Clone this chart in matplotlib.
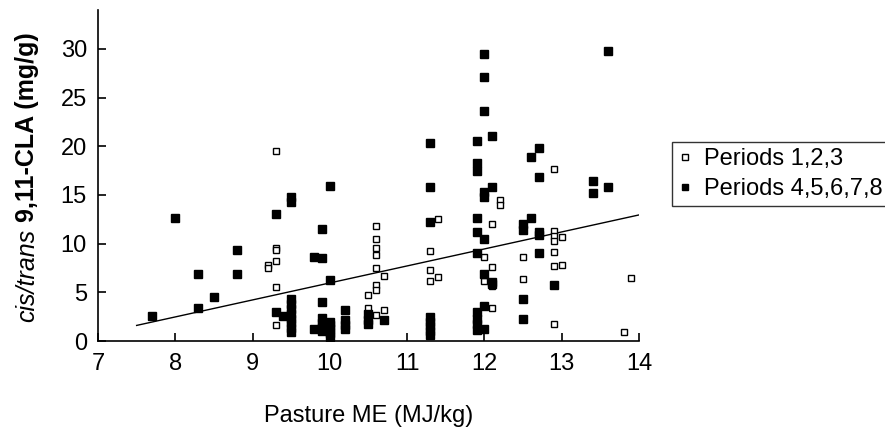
import matplotlib
matplotlib.use("Agg")
import matplotlib.pyplot as plt

# Periods 1,2,3 (open squares)
open_x = [9.3, 9.3, 9.3, 9.3, 9.2, 9.2, 9.3, 9.3,
          10.6, 10.6, 10.6, 10.6, 10.6, 10.7, 10.6, 10.6, 10.5, 10.5, 10.6, 10.7,
          11.4, 11.3, 11.3, 11.3, 11.4,
          12.2, 12.2, 12.1, 12.0, 12.1, 12.0, 12.1, 12.1,
          12.9, 12.5, 12.5, 12.9, 12.9, 12.9, 13.0, 12.9, 12.9, 13.0, 12.9,
          13.9, 13.8]
open_y = [19.5, 9.6, 9.3, 8.2, 7.8, 7.5, 5.5, 1.6,
          11.8, 10.5, 9.6, 8.8, 7.5, 6.7, 5.75, 5.2, 4.7, 3.4, 2.7, 3.2,
          12.5, 9.2, 7.3, 6.2, 6.6,
          14.5, 14.0, 12.0, 8.6, 7.6, 6.2, 5.6, 3.4,
          17.7, 8.6, 6.4, 11.3, 10.8, 10.3, 10.65, 9.1, 7.7, 7.8, 1.75,
          6.5, 0.95]

# Periods 4,5,6,7,8 (filled squares)
filled_x = [7.7, 8.0, 8.3, 8.3, 8.5, 8.8, 8.8, 9.3, 9.3, 9.4,
            9.5, 9.5, 9.5, 9.5, 9.5, 9.5, 9.5, 9.5, 9.5, 9.5,
            10.0, 9.9, 9.8, 9.9, 10.0, 9.9, 9.8, 9.9, 9.9, 9.9, 9.9,
            10.0, 10.0, 10.0, 10.0, 10.0,
            10.2, 10.2, 10.2, 10.2,
            10.5, 10.5, 10.5, 10.7,
            11.3, 11.3, 11.3, 11.3, 11.3, 11.3, 11.3, 11.3,
            11.9, 11.9, 11.9, 11.9, 11.9, 11.9, 11.9, 11.9, 11.9, 11.9,
            12.0, 12.0, 12.0, 12.1, 12.0, 12.0, 12.1, 12.0, 12.0, 12.1, 12.1, 12.0, 12.0,
            13.6, 12.7, 12.6, 12.7, 13.4, 13.4, 13.6, 12.6, 12.5, 12.5, 12.7, 12.7,
            12.7, 12.9, 12.5, 12.5]
filled_y = [2.6, 12.6, 3.4, 6.9, 4.5, 9.3, 6.9, 13.0, 3.0, 2.6,
            14.8, 14.3, 4.3, 3.8, 3.3, 2.8, 2.3, 1.8, 1.3, 0.9,
            15.9, 11.5, 8.6, 8.5, 6.3, 4.0, 1.2, 2.4, 1.9, 1.4, 1.0,
            2.0, 1.6, 1.2, 0.8, 0.4,
            3.2, 2.2, 1.6, 1.2,
            2.8, 2.2, 1.7, 2.2,
            20.3, 15.85, 12.25, 2.5, 2.0, 1.5, 1.0, 0.6,
            20.5, 18.3, 17.5, 12.6, 11.2, 9.0, 3.0, 2.3, 1.7, 1.1,
            29.5, 27.1, 23.6, 21.1, 15.3, 14.8, 15.8, 10.5, 6.9, 6.1, 5.85, 3.6, 1.2,
            29.8, 19.8, 18.9, 16.8, 16.4, 15.2, 15.85, 12.6, 12.0, 11.4, 11.2, 10.9,
            9.0, 5.75, 4.3, 2.3]

# regression line end points
fit_x = [7.5, 14.0]
fit_y = [1.6, 12.95]

x_ticks = [7, 8, 9, 10, 11, 12, 13, 14]
y_ticks = [0, 5, 10, 15, 20, 25, 30]

plt.rcParams['font.family'] = ['Liberation Sans', 'DejaVu Sans']

fig = plt.figure(figsize=(8.85, 4.34), dpi=100)
ax = fig.add_axes([98 / 885, 1 - 341 / 434, (639 - 98) / 885, (341 - 10) / 434])

ax.plot(open_x, open_y, 's', markersize=5, markerfacecolor='white',
        markeredgecolor='black', markeredgewidth=1.0, linestyle='none',
        label='Periods 1,2,3', zorder=3)
ax.plot(filled_x, filled_y, 's', markersize=5.5, color='black',
        linestyle='none', label='Periods 4,5,6,7,8', zorder=3)
ax.plot(fit_x, fit_y, color='black', linewidth=1.0, zorder=2)

ax.set_xlim(7, 14)
ax.set_ylim(0, 34)
ax.set_xticks(x_ticks)
ax.set_yticks(y_ticks)
for side in ['top', 'right']:
    ax.spines[side].set_visible(False)
for side in ['left', 'bottom']:
    ax.spines[side].set_linewidth(1.2)
ax.tick_params(axis='both', direction='in', length=6, width=1.2, labelsize=17)
ax.tick_params(axis='y', pad=8)
ax.tick_params(axis='x', pad=9)

ax.set_xlabel('Pasture ME (MJ/kg)', fontsize=17, va='center')
ax.xaxis.set_label_coords(0.5, -(416 - 341) / 331)

# y label: italic part then bold part, stacked along the rotated axis
fig.canvas.draw()
renderer = fig.canvas.get_renderer()
t1 = fig.text(27 / 885, 1 - 322 / 434, 'cis/trans', rotation=90, fontsize=18,
              style='italic', ha='center', va='bottom')
bb = t1.get_window_extent(renderer)
t2 = fig.text(27 / 885, (bb.y1 + 7) / 434, '9,11-CLA (mg/g)', rotation=90,
              fontsize=18, fontweight='bold', ha='center', va='bottom')

leg = fig.legend(loc='upper left', bbox_to_anchor=(672 / 885, 1 - 142 / 434),
                 fontsize=17, frameon=True, fancybox=False, markerscale=0.8,
                 handlelength=0.6, handletextpad=0.5, borderpad=0.25,
                 labelspacing=0.35, borderaxespad=0)
leg.get_frame().set_edgecolor('black')
leg.get_frame().set_linewidth(1.0)

fig.savefig('out.png', dpi=100)
